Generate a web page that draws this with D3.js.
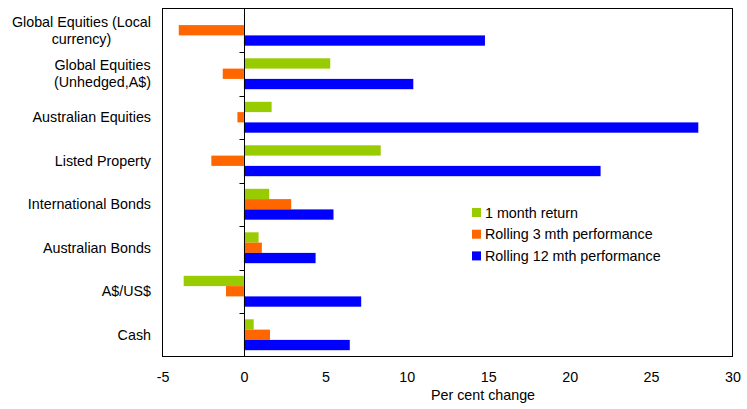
<!DOCTYPE html>
<html>
<head>
<meta charset="utf-8">
<script src="https://cdn.jsdelivr.net/npm/d3@7"></script>
<style>
  body { margin: 0; background: #fff; }
  text { font-family: Arial, "Liberation Sans", sans-serif; fill: #000; }
</style>
</head>
<body>
<div id="chart"></div>
<script>
// categories top to bottom, each label split into lines
let categories = ["Global Equities (Local currency)", "Global Equities (Unhedged,A$)", "Australian Equities",
    "Listed Property", "International Bonds", "Australian Bonds", "A$/US$", "Cash"];
let cat_lines = [["Global Equities (Local", "currency)"], ["Global Equities", "(Unhedged,A$)"], ["Australian Equities"],
    ["Listed Property"], ["International Bonds"], ["Australian Bonds"], ["A$/US$"], ["Cash"]];

let series = ["1 month return", "Rolling 3 mth performance", "Rolling 12 mth performance"];
let month_1 = [0.05, 5.3, 1.7, 8.4, 1.55, 0.9, -3.7, 0.6];
let rolling_3 = [-4.0, -1.3, -0.4, -2.0, 2.9, 1.1, -1.1, 1.6];
let rolling_12 = [14.8, 10.4, 27.9, 21.9, 5.5, 4.4, 7.2, 6.5];
let colors = ["#99CC00", "#FF6600", "#0000FF"];
let x_ticks = [-5, 0, 5, 10, 15, 20, 25, 30];

let width = 747, height = 409;
let plot_left = 162.5, plot_right = 732.5, plot_top = 8.5, plot_bottom = 356.5;
let font_size = "14.3px";

let svg = d3.select("#chart").append("svg")
    .attr("width", width)
    .attr("height", height);

//scales
let x = d3.scaleLinear().domain([-5, 30]).range([plot_left, plot_right]);
let y = d3.scaleBand().domain(categories).range([plot_top, plot_bottom])
    .paddingInner(0.29).paddingOuter(0.145);
let y_inner = d3.scaleBand().domain(series).range([0, y.bandwidth()]);

let all_values = [month_1, rolling_3, rolling_12];

//bars
series.forEach((s, si) => {
    svg.append("g").selectAll("rect")
        .data(categories)
        .join("rect")
        .attr("x", (d, i) => x(Math.min(0, all_values[si][i])))
        .attr("width", (d, i) => Math.abs(x(all_values[si][i]) - x(0)))
        .attr("y", d => y(d) + y_inner(s))
        .attr("height", y_inner.bandwidth())
        .attr("fill", colors[si]);
});

//frame
svg.append("rect")
    .attr("x", plot_left).attr("y", plot_top)
    .attr("width", plot_right - plot_left).attr("height", plot_bottom - plot_top)
    .attr("fill", "none").attr("stroke", "#000").attr("stroke-width", 1);

//zero line with ticks at category boundaries
let x0 = Math.round(x(0)) + 0.5;
svg.append("line")
    .attr("x1", x0).attr("x2", x0)
    .attr("y1", plot_top).attr("y2", plot_bottom)
    .attr("stroke", "#000");

svg.append("g").selectAll("line")
    .data(categories.slice(1))
    .join("line")
    .attr("x1", x0 - 5).attr("x2", x0)
    .attr("y1", d => Math.round(y(d) - y.step() * y.paddingInner() / 2) + 0.5)
    .attr("y2", d => Math.round(y(d) - y.step() * y.paddingInner() / 2) + 0.5)
    .attr("stroke", "#000");

//x axis labels (plain hyphen for negatives, as in the original)
let x_axis = svg.append("g")
    .attr("transform", "translate(0," + plot_bottom + ")")
    .call(d3.axisBottom(x).tickValues(x_ticks).tickSize(0).tickPadding(15).tickFormat(d => String(d)));
x_axis.select(".domain").remove();
x_axis.selectAll("text")
    .style("font-family", "Arial, 'Liberation Sans', sans-serif")
    .style("font-size", font_size)
    .attr("fill", "#000");

svg.append("text")
    .attr("x", 483)
    .attr("y", 400)
    .attr("text-anchor", "middle")
    .style("font-size", font_size)
    .text("Per cent change");

//category labels, centred lines in a right-aligned block
categories.forEach((c, i) => {
    let lines = cat_lines[i];
    let g = svg.append("g");
    let texts = lines.map((l, li) => g.append("text")
        .attr("y", y(c) + y.bandwidth() / 2 + (li - (lines.length - 1) / 2) * 17)
        .attr("dy", "0.35em")
        .style("font-size", font_size)
        .text(l));
    let maxw = d3.max(texts, t => t.node().getComputedTextLength());
    texts.forEach(t => t.attr("x", 151 - maxw / 2).attr("text-anchor", "middle"));
});

//legend
series.forEach((s, si) => {
    let ly = 212.5 + si * 21.7;
    svg.append("rect")
        .attr("x", 472).attr("y", ly - 4.5)
        .attr("width", 9).attr("height", 9)
        .attr("fill", colors[si]);
    svg.append("text")
        .attr("x", 485).attr("y", ly)
        .attr("dy", "0.35em")
        .style("font-size", font_size)
        .text(s);
});
</script>
</body>
</html>
